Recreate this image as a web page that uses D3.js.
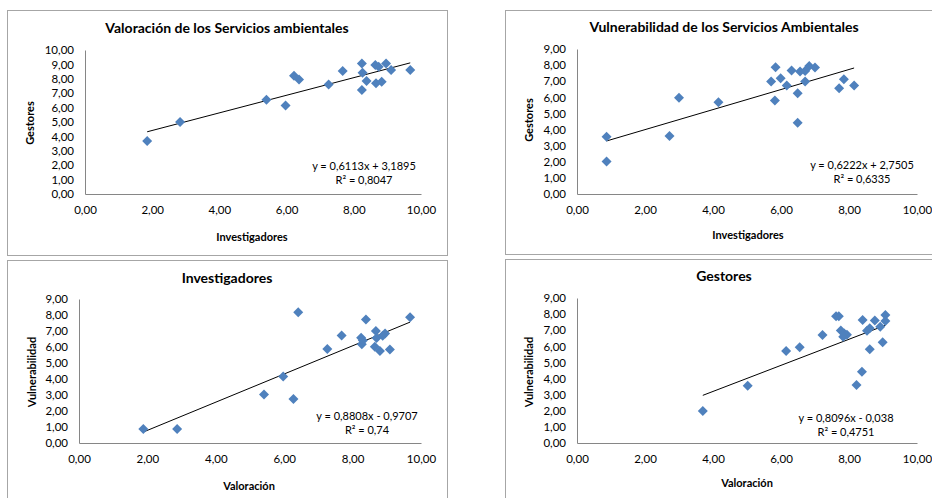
<!DOCTYPE html>
<html>
<head>
<meta charset="utf-8">
<script src="https://cdn.jsdelivr.net/npm/d3@7"></script>
<style>
  body { margin: 0; background: #fff; }
  text { font-family: Lato, "Open Sans", sans-serif; fill: #000; }
</style>
</head>
<body>
<div id="chart"></div>
<script>
var svgWidth = 932;
var svgHeight = 498;

// Valoracion: investigadores (x) vs gestores (y)
var valInvX = [1.85, 2.83, 5.40, 5.97, 6.22, 6.37, 7.25, 7.67, 8.24, 8.26, 8.24, 8.38, 8.64, 8.74, 8.96, 8.66, 8.83, 9.11, 9.68];
var valGesY = [3.68, 5.00, 6.55, 6.15, 8.22, 7.96, 7.61, 8.54, 9.07, 8.42, 7.22, 7.85, 8.96, 8.84, 9.07, 7.69, 7.80, 8.61, 8.61];

// Vulnerabilidad: investigadores (x) vs gestores (y)
var vulInvX = [0.87, 0.87, 2.72, 3.00, 4.16, 5.71, 5.84, 5.82, 5.99, 6.17, 6.31, 6.49, 6.49, 6.56, 6.71, 6.71, 6.83, 7.00, 7.71, 7.85, 8.15];
var vulGesY = [3.56, 2.01, 3.60, 5.98, 5.69, 6.98, 7.87, 5.80, 7.19, 6.73, 7.66, 6.25, 4.43, 7.60, 7.64, 6.98, 7.95, 7.85, 6.56, 7.12, 6.73];

// Investigadores: valoracion (x) vs vulnerabilidad (y)
var invValX = [1.88, 2.87, 5.41, 5.97, 6.27, 6.41, 7.26, 7.68, 8.25, 8.27, 8.39, 8.68, 8.70, 8.65, 8.80, 8.95, 9.09, 9.68, 8.30, 8.88];
var invVulY = [0.88, 0.88, 3.03, 4.15, 2.75, 8.17, 5.88, 6.72, 6.58, 6.17, 7.72, 7.00, 6.56, 6.02, 5.75, 6.85, 5.85, 7.86, 6.40, 6.70];

// Gestores: valoracion (x) vs vulnerabilidad (y)
var gesValX = [3.70, 5.02, 6.15, 6.55, 7.22, 7.62, 7.70, 7.76, 7.86, 7.94, 7.83, 8.22, 8.38, 8.40, 8.53, 8.61, 8.61, 8.76, 8.92, 8.99, 9.07, 9.07];
var gesVulY = [1.99, 3.56, 5.71, 5.94, 6.71, 7.86, 7.86, 6.98, 6.80, 6.72, 6.60, 3.60, 4.43, 7.64, 6.96, 7.12, 5.82, 7.60, 7.22, 6.25, 7.95, 7.58];

// trend lines (slope, intercept) and their labels
var slopes = [0.6113, 0.6222, 0.8808, 0.8096];
var intercepts = [3.1895, 2.7505, -0.9707, -0.038];
var eqLabels = ["y = 0,6113x + 3,1895", "y = 0,6222x + 2,7505", "y = 0,8808x - 0,9707", "y = 0,8096x - 0,038"];
var r2Labels = ["R² = 0,8047", "R² = 0,6335", "R² = 0,74", "R² = 0,4751"];

var titles = ["Valoración de los Servicios ambientales", "Vulnerabilidad de los Servicios Ambientales", "Investigadores", "Gestores"];
var xTitles = ["Investigadores", "Investigadores", "Valoración", "Valoración"];
var yTitles = ["Gestores", "Gestores", "Vulnerabilidad", "Vulnerabilidad"];
var yMaxes = [10, 9, 9, 9];

var panels = [
    {xs: valInvX, ys: valGesY, box: [7, 10, 440, 245], plot: [85, 421, 50, 194], title: [227, 28], yLab: [30, 123], xLab: [252, 237], eq: [364, 166]},
    {xs: vulInvX, ys: vulGesY, box: [505, 10, 440, 244], plot: [577, 917, 49, 194], title: [724, 27], yLab: [529, 120], xLab: [748, 235], eq: [862, 165]},
    {xs: invValX, ys: invVulY, box: [7, 260, 440, 250], plot: [79, 421, 299, 443], title: [227, 278], yLab: [32, 372], xLab: [249, 486], eq: [367, 416]},
    {xs: gesValX, ys: gesVulY, box: [505, 259, 440, 250], plot: [577, 917, 298, 443], title: [724, 276], yLab: [529, 372], xLab: [747, 483], eq: [846, 418]}
];

var svg = d3.select("#chart").append("svg").attr("width", svgWidth).attr("height", svgHeight);

var fmt = function(d){ return d3.format(".2f")(d).replace(".", ","); };

panels.forEach(function(p, i){
    var g = svg.append("g");

    g.append("rect")
        .attr("x", p.box[0] + 0.5).attr("y", p.box[1] + 0.5)
        .attr("width", p.box[2]).attr("height", p.box[3])
        .attr("fill", "#fff").attr("stroke", "#a6a6a6").attr("stroke-width", 1);

    var xScale = d3.scaleLinear().domain([0, 10]).range([p.plot[0], p.plot[1]]);
    var yScale = d3.scaleLinear().domain([0, yMaxes[i]]).range([p.plot[3], p.plot[2]]);

    var xAxis = g.append("g").attr("transform", `translate(0,${p.plot[3]})`)
        .call(d3.axisBottom(xScale).tickValues(d3.range(0, 11, 2)).tickFormat(fmt).tickSize(0).tickPadding(12));
    var yAxis = g.append("g").attr("transform", `translate(${p.plot[0]},0)`)
        .call(d3.axisLeft(yScale).ticks(yMaxes[i]).tickFormat(fmt).tickSize(0).tickPadding(11));

    [xAxis, yAxis].forEach(function(ax){
        ax.select(".domain").attr("stroke", "#868686");
        ax.selectAll("text").attr("font-size", "11.5px").attr("fill", "#000");
    });

    // trend line over data extent
    var ext = d3.extent(p.xs);
    var line = d3.line().x(d => xScale(d)).y(d => yScale(slopes[i] * d + intercepts[i]));
    g.append("path").datum(ext).attr("d", line).attr("fill", "none").attr("stroke", "#000").attr("stroke-width", 1);

    g.selectAll("path.pt").data(p.xs).enter().append("path")
        .attr("class", "pt")
        .attr("d", d3.symbol().type(d3.symbolSquare).size(50))
        .attr("transform", (d, j) => `translate(${xScale(d)},${yScale(p.ys[j])}) rotate(45)`)
        .attr("fill", "#4f81bd");

    g.append("text").attr("x", p.title[0]).attr("y", p.title[1] + 5).attr("text-anchor", "middle")
        .attr("font-size", "14px").attr("font-weight", "bold").text(titles[i]);

    g.append("text").attr("x", p.xLab[0]).attr("y", p.xLab[1] + 4).attr("text-anchor", "middle")
        .attr("font-size", "11px").attr("font-weight", "bold").text(xTitles[i]);

    g.append("text").attr("transform", `translate(${p.yLab[0] + 4},${p.yLab[1]}) rotate(-90)`).attr("text-anchor", "middle")
        .attr("font-size", "11px").attr("font-weight", "bold").text(yTitles[i]);

    g.append("text").attr("x", p.eq[0]).attr("y", p.eq[1] + 4).attr("text-anchor", "middle")
        .attr("font-size", "11px").text(eqLabels[i]);
    g.append("text").attr("x", p.eq[0]).attr("y", p.eq[1] + 18).attr("text-anchor", "middle")
        .attr("font-size", "11px").text(r2Labels[i]);
});
</script>
</body>
</html>
